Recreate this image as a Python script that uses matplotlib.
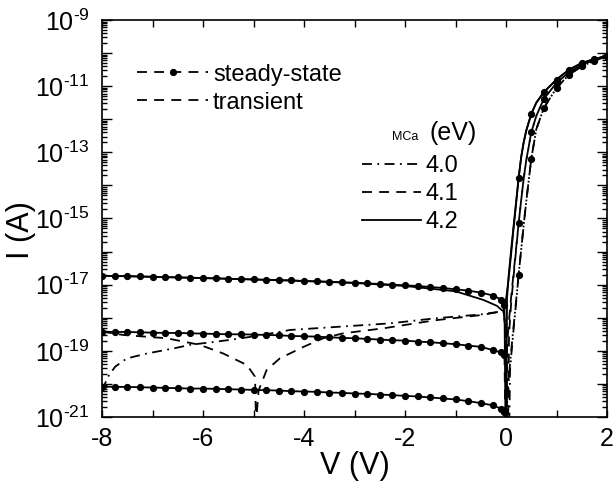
import numpy as np
import matplotlib
matplotlib.use('Agg')
import matplotlib.pyplot as plt
from matplotlib.lines import Line2D
from matplotlib.ticker import LogLocator, FuncFormatter, MultipleLocator, NullFormatter

plt.rcParams['font.family'] = ['Liberation Sans', 'DejaVu Sans']
plt.rcParams['axes.unicode_minus'] = False
plt.rcParams['mathtext.fontset'] = 'custom'
plt.rcParams['mathtext.rm'] = 'Liberation Sans'
plt.rcParams['mathtext.it'] = 'Liberation Sans'

# ---------------- data (log10 of current in A) ----------------
work_functions = ['4.0', '4.1', '4.2']

# reverse-bias voltage grid of the steady-state simulation
v_rev = np.arange(-8.0, -0.2, 0.25)
v_near0 = [-0.1, -0.03, 0.0]
v_fwd = [0.02, 0.05, 0.1, 0.15, 0.2, 0.25, 0.3, 0.35, 0.4, 0.5, 0.6, 0.75, 1.0, 1.25, 1.5, 1.75, 2.0]

ss42_rev = [-16.73, -16.74, -16.74, -16.75, -16.76, -16.77, -16.78, -16.79, -16.80, -16.81, -16.82,
            -16.83, -16.84, -16.85, -16.86, -16.87, -16.89, -16.90, -16.91, -16.93, -16.94, -16.96,
            -16.98, -17.00, -17.02, -17.04, -17.07, -17.10, -17.14, -17.18, -17.24, -17.33]
ss41_rev = [-18.42, -18.43, -18.43, -18.44, -18.45, -18.46, -18.46, -18.47, -18.48, -18.49, -18.50,
            -18.50, -18.51, -18.52, -18.53, -18.55, -18.56, -18.57, -18.59, -18.61, -18.62, -18.64,
            -18.66, -18.68, -18.69, -18.72, -18.74, -18.77, -18.80, -18.84, -18.88, -18.98]
ss40_rev = [-20.08, -20.09, -20.09, -20.10, -20.11, -20.12, -20.13, -20.14, -20.14, -20.15, -20.16,
            -20.17, -20.18, -20.19, -20.20, -20.22, -20.23, -20.24, -20.26, -20.27, -20.29, -20.30,
            -20.32, -20.34, -20.36, -20.38, -20.41, -20.44, -20.47, -20.52, -20.58, -20.65]
ss42_near0 = [-17.45, -17.60, -23.0]
ss41_near0 = [-19.05, -19.13, -23.0]
ss40_near0 = [-20.75, -20.85, -23.0]
ss42_fwd = [-17.42, -16.77, -15.97, -15.23, -14.50, -13.78, -13.15, -12.70, -12.35, -11.84, -11.50,
            -11.18, -10.80, -10.50, -10.30, -10.18, -10.08]
ss41_fwd = [-18.90, -18.24, -17.40, -16.65, -15.90, -15.15, -14.45, -13.80, -13.25, -12.40, -11.90,
            -11.38, -10.90, -10.58, -10.35, -10.20, -10.08]
ss40_fwd = [-20.58, -19.90, -19.05, -18.26, -17.48, -16.70, -15.95, -15.20, -14.50, -13.20, -12.30,
            -11.66, -11.05, -10.65, -10.40, -10.23, -10.10]

# transient curves (forward part above 0.25 V follows the steady-state values)
tr42_v = [-8.0, -6.0, -4.0, -3.0, -2.0, -1.0, -0.45, -0.18, -0.09, -0.05, 0.0, 0.05, 0.1, 0.15, 0.2, 0.25]
tr42 = [-16.73, -16.80, -16.89, -16.95, -17.04, -17.20, -17.46, -17.64, -17.76, -17.80, -17.45, -16.85,
        -16.10, -15.30, -14.55, -13.78]
tr41_v = [-8.0, -7.58, -6.72, -6.06, -5.6, -5.13, -4.97, -4.95, -4.9, -4.74, -4.48, -4.01, -3.62, -3.22,
          -2.43, -1.42, -0.5, -0.05, 0.0, 0.03, 0.06, 0.1, 0.15, 0.2, 0.25]
tr41 = [-18.42, -18.52, -18.62, -18.82, -19.08, -19.43, -19.78, -21.20, -20.20, -19.58, -19.23, -18.88,
        -18.62, -18.47, -18.32, -18.08, -17.92, -17.80, -18.40, -23.0, -18.50, -17.60, -16.75, -15.95, -15.15]
tr40_v = [-8.0, -7.88, -7.74, -7.51, -7.11, -6.59, -6.26, -5.47, -4.94, -4.28, -3.29, -2.30, -1.42, -0.5,
          -0.05, 0.0, 0.05, 0.08, 0.1, 0.15, 0.2, 0.25]
tr40 = [-20.20, -19.78, -19.48, -19.23, -19.08, -18.93, -18.82, -18.67, -18.55, -18.37, -18.27, -18.17,
        -18.02, -17.90, -17.80, -18.50, -23.0, -19.60, -19.20, -18.35, -17.55, -16.70]

# ---------------- styles ----------------
LW = 1.3
MS = 4.2
styles = {
    '4.0': (0, (5.5, 3.0, 1.0, 3.0)),
    '4.1': (0, (5.5, 4.0)),
    '4.2': '-',
}

fig = plt.figure(figsize=(6.16, 4.91), dpi=100)
ax = fig.add_axes([102 / 616, 1 - 417 / 491, 505 / 616, 397 / 491])

ss_sets = {'4.2': (ss42_rev, ss42_near0, ss42_fwd),
           '4.1': (ss41_rev, ss41_near0, ss41_fwd),
           '4.0': (ss40_rev, ss40_near0, ss40_fwd)}
tr_sets = {'4.2': (tr42_v, tr42), '4.1': (tr41_v, tr41), '4.0': (tr40_v, tr40)}

fwd_v = np.array(v_fwd)
n_rev = len(v_rev)
for wf in work_functions:
    rev, near0, fwd = ss_sets[wf]
    v_all = np.concatenate([v_rev, v_near0, v_fwd])
    logi = np.concatenate([rev, near0, fwd])
    # reverse branch (dense points -> appears continuous)
    ax.plot(v_all[:n_rev + 2], 10.0 ** logi[:n_rev + 2], color='black', lw=LW, linestyle='-',
            marker='o', markersize=MS)
    # drop at 0 V and forward branch
    vf = v_all[n_rev + 1:]
    lf = logi[n_rev + 1:]
    mk = [i for i, v in enumerate(vf) if abs(v * 4 - round(v * 4)) < 1e-6 and v > 0.1]
    ax.plot(vf, 10.0 ** lf, color='black', lw=LW, linestyle=styles[wf],
            marker='o', markersize=MS, markevery=mk)
    tv, ti = tr_sets[wf]
    sel = fwd_v > 0.26
    tv_all = np.concatenate([tv, fwd_v[sel]])
    ti_all = np.concatenate([ti, np.array(fwd)[sel]])
    ax.plot(tv_all, 10.0 ** ti_all, color='black', lw=LW, linestyle=styles[wf])

ax.set_xlim(-8, 2)
ax.set_ylim(1e-21, 1e-9)
ax.set_yscale('log')

ax.xaxis.set_major_locator(MultipleLocator(2))
ax.xaxis.set_minor_locator(MultipleLocator(1))
ax.yaxis.set_major_locator(LogLocator(base=10, numticks=30))
ax.yaxis.set_minor_locator(LogLocator(base=10, subs=np.arange(2, 10), numticks=200))
ax.yaxis.set_minor_formatter(NullFormatter())


def yfmt(v, pos):
    e = int(round(np.log10(v)))
    if e % 2 != 0:
        return r'$\mathregular{10^{\text{-}%d}}$' % abs(e)
    return ''


ax.yaxis.set_major_formatter(FuncFormatter(yfmt))
ax.xaxis.set_major_formatter(FuncFormatter(lambda v, p: '%d' % round(v)))

ax.tick_params(which='both', direction='in', top=True, right=True, width=1.0)
ax.tick_params(axis='x', which='both', length=5, labelsize=18, pad=7)
ax.tick_params(axis='y', which='major', length=7, labelsize=18, pad=9)
ax.tick_params(axis='y', which='minor', length=3.5)
for s in ax.spines.values():
    s.set_linewidth(1.2)

ax.set_xlabel('V (V)', fontsize=22, labelpad=0)
ax.set_ylabel('I (A)', fontsize=22)
ax.yaxis.set_label_coords(-0.13, 0.47)

# legend 1: simulation type
h1 = [Line2D([], [], color='black', lw=LW, linestyle=(0, (5.5, 4.0)), marker='o', markersize=MS),
      Line2D([], [], color='black', lw=LW, linestyle=(0, (5.5, 4.0)))]
leg1 = ax.legend(h1, ['steady-state', 'transient'], loc='upper left', bbox_to_anchor=(0.07, 0.89),
                 frameon=False, fontsize=17, handlelength=3.0, handletextpad=0.2, labelspacing=0.25,
                 borderpad=0, borderaxespad=0, numpoints=1)
ax.add_artist(leg1)

# legend 2: work function
h2 = [Line2D([], [], color='black', lw=LW, linestyle=styles[w]) for w in work_functions]
ax.legend(h2, work_functions, loc='upper left', bbox_to_anchor=(0.515, 0.66), frameon=False,
          fontsize=17, handlelength=2.5, handletextpad=0.2, labelspacing=0.25, borderpad=0,
          borderaxespad=0)
ax.text(0.575, 0.705, 'MCa', transform=ax.transAxes, fontsize=9, ha='left', va='center')
ax.text(0.648, 0.715, '(eV)', transform=ax.transAxes, fontsize=18, ha='left', va='center')

fig.savefig('out.png', dpi=100)
